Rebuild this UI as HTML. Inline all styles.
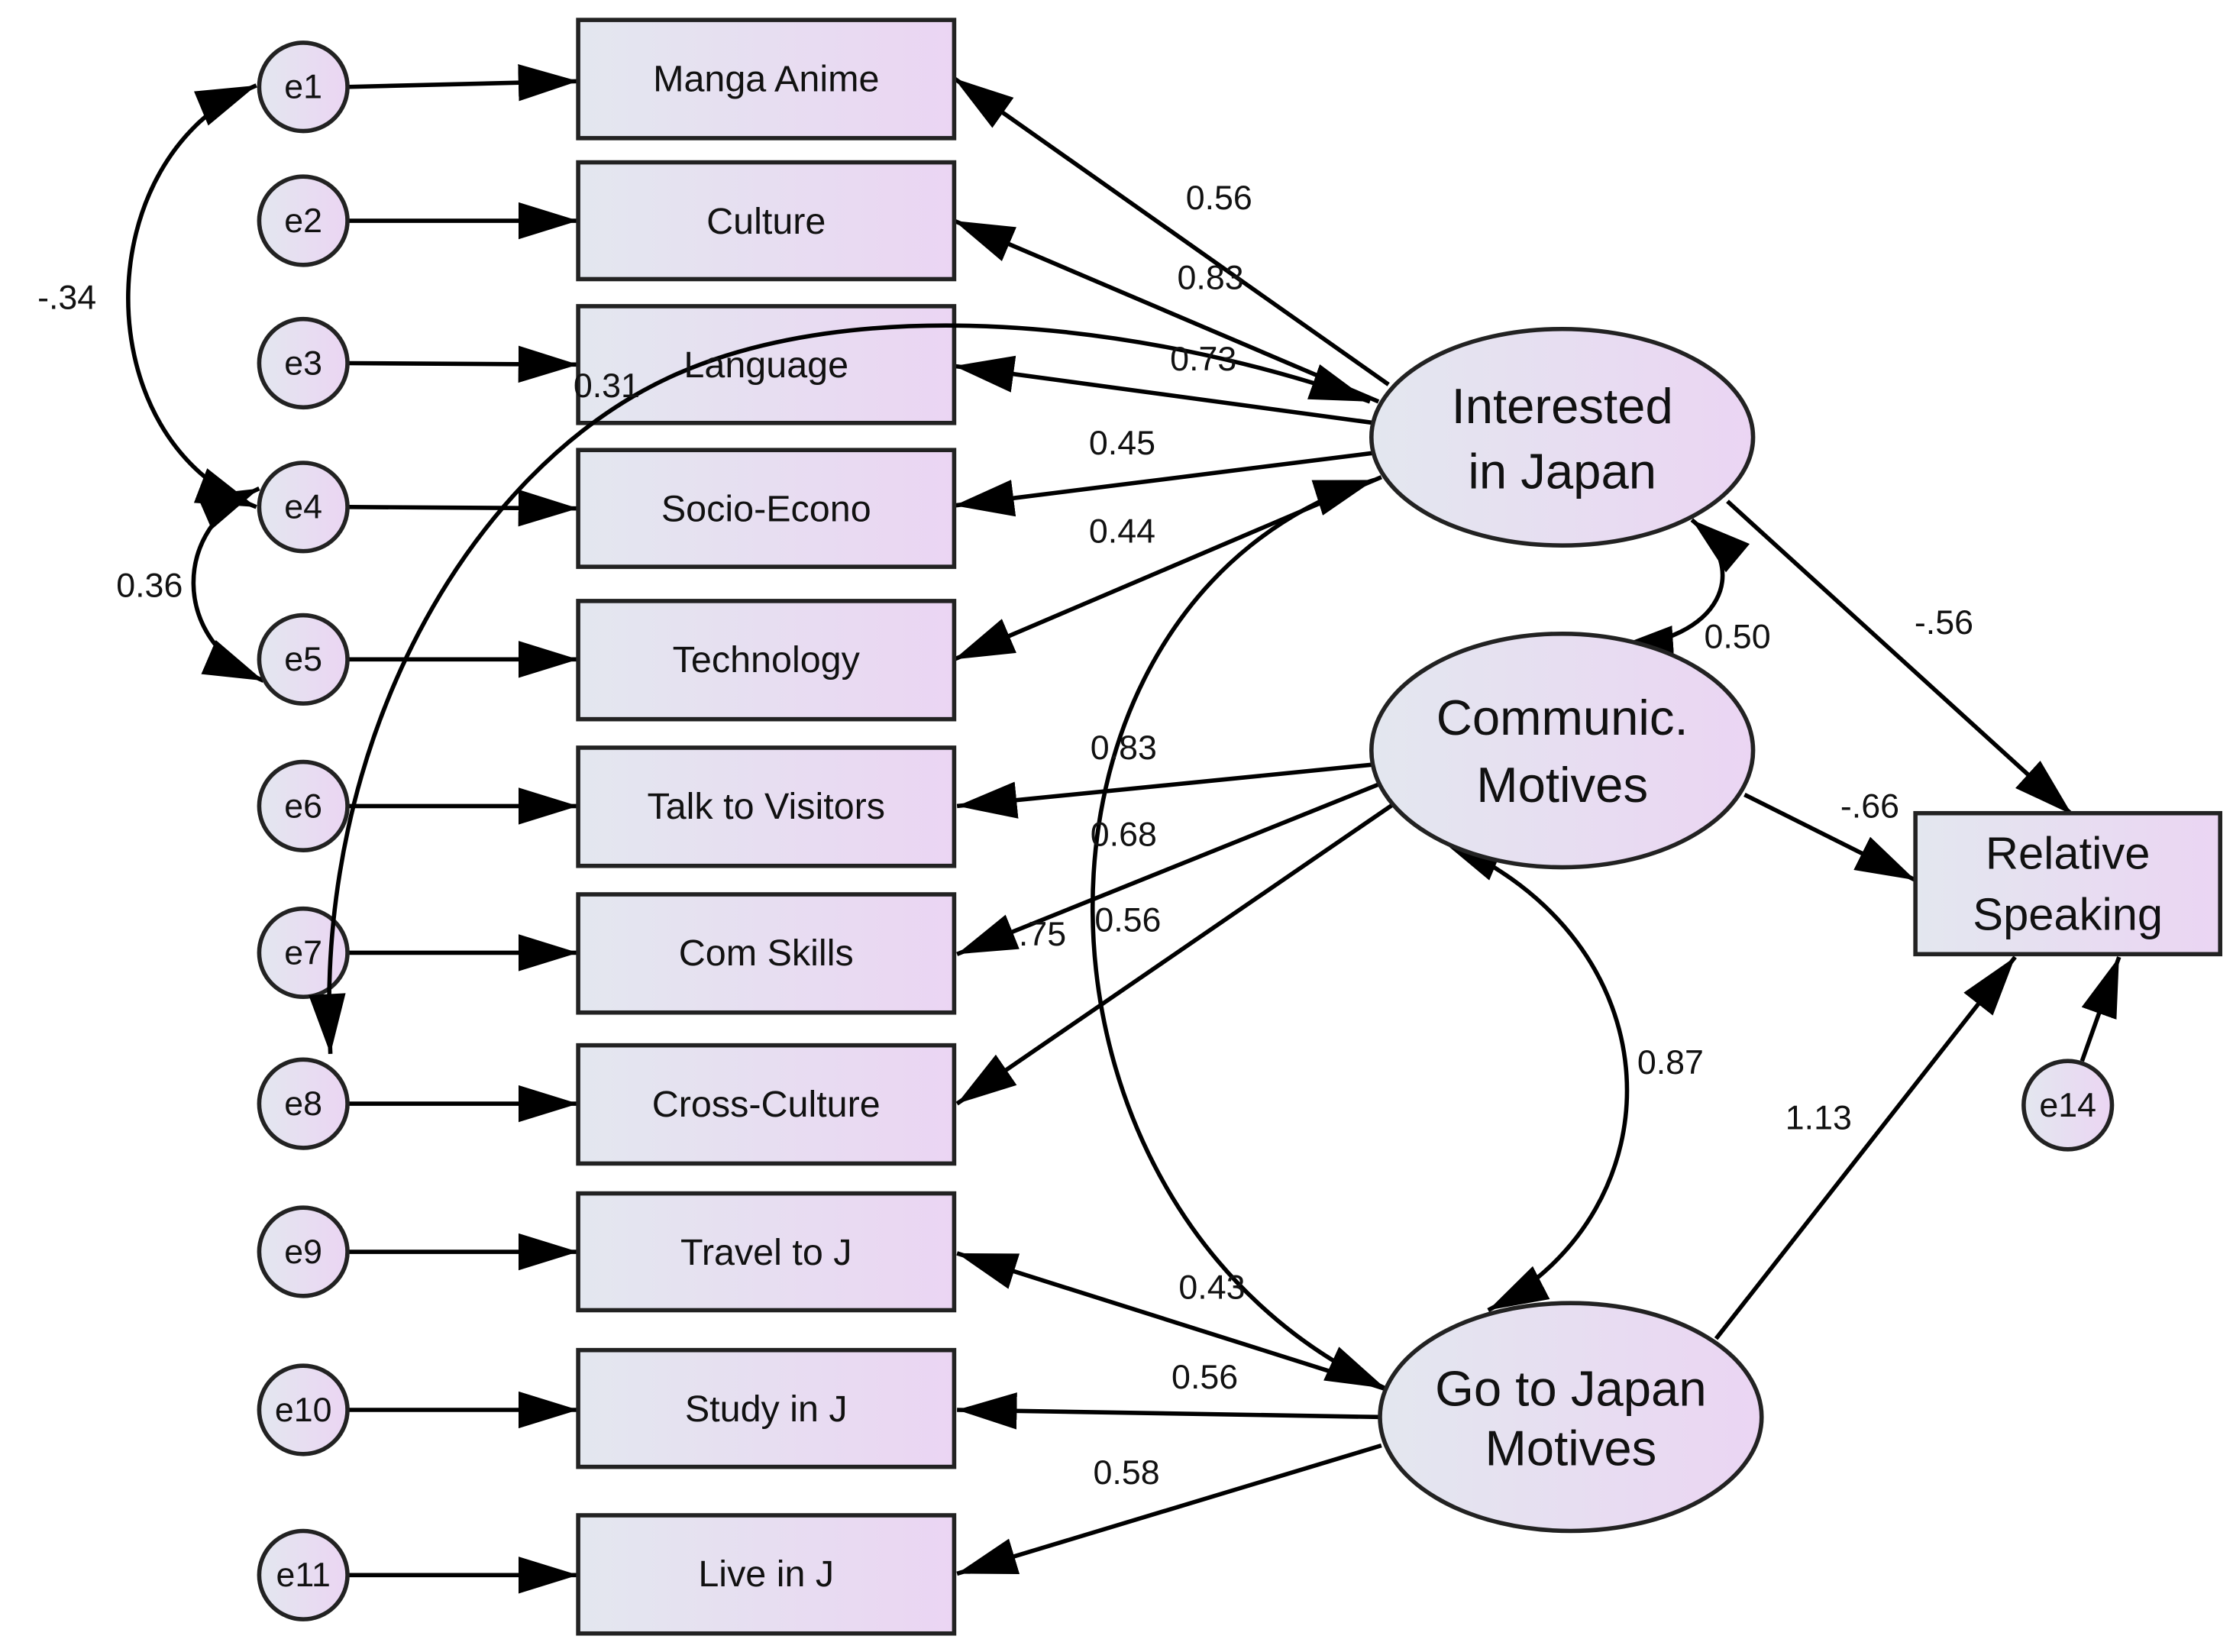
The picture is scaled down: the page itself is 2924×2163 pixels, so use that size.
<!DOCTYPE html>
<html><head><meta charset="utf-8"><style>
html,body{margin:0;padding:0;background:#fff;}
svg{display:block;}
text{font-family:"Liberation Sans",sans-serif;fill:#111;}
</style></head><body>
<svg width="2924" height="2163" viewBox="0 0 1568 1160" preserveAspectRatio="none" xmlns="http://www.w3.org/2000/svg">
<defs>
<linearGradient id="g" x1="0" y1="0" x2="1" y2="0"><stop offset="0" stop-color="#e3e7ef"/><stop offset="1" stop-color="#ebd5f3"/></linearGradient>
<marker id="a" markerUnits="userSpaceOnUse" markerWidth="44" markerHeight="30" refX="42" refY="13" orient="auto"><path d="M0,0 L42,13 L0,26 Z" fill="#000"/></marker>
<marker id="s" markerUnits="userSpaceOnUse" markerWidth="44" markerHeight="30" refX="0" refY="13" orient="auto"><path d="M42,0 L0,13 L42,26 Z" fill="#000"/></marker>
</defs>
<g stroke="#000" stroke-width="3" fill="none">
<line x1="245" y1="61" x2="406" y2="57" marker-end="url(#a)"/>
<line x1="245" y1="155" x2="406" y2="155" marker-end="url(#a)"/>
<line x1="245" y1="255" x2="406" y2="256" marker-end="url(#a)"/>
<line x1="245" y1="356" x2="406" y2="357" marker-end="url(#a)"/>
<line x1="245" y1="463" x2="406" y2="463" marker-end="url(#a)"/>
<line x1="245" y1="566" x2="406" y2="566" marker-end="url(#a)"/>
<line x1="245" y1="669" x2="406" y2="669" marker-end="url(#a)"/>
<line x1="245" y1="775" x2="406" y2="775" marker-end="url(#a)"/>
<line x1="245" y1="879" x2="406" y2="879" marker-end="url(#a)"/>
<line x1="245" y1="990" x2="406" y2="990" marker-end="url(#a)"/>
<line x1="245" y1="1106" x2="406" y2="1106" marker-end="url(#a)"/>
<line x1="975" y1="270" x2="670" y2="55" marker-end="url(#a)"/>
<line x1="968" y1="282" x2="670" y2="155" marker-end="url(#a)"/>
<line x1="965" y1="297" x2="670" y2="257" marker-end="url(#a)"/>
<line x1="965" y1="318" x2="670" y2="355" marker-end="url(#a)"/>
<line x1="970" y1="335" x2="670" y2="463" marker-end="url(#a)"/>
<line x1="963" y1="537" x2="672" y2="566" marker-end="url(#a)"/>
<line x1="970" y1="550" x2="672" y2="670" marker-end="url(#a)"/>
<line x1="978" y1="565" x2="672" y2="775" marker-end="url(#a)"/>
<line x1="972" y1="975" x2="672" y2="880" marker-end="url(#a)"/>
<line x1="968" y1="995" x2="672" y2="990" marker-end="url(#a)"/>
<line x1="970" y1="1015" x2="672" y2="1105" marker-end="url(#a)"/>
<line x1="1213" y1="352" x2="1455" y2="572" marker-end="url(#a)"/>
<line x1="1225" y1="558" x2="1345" y2="618" marker-end="url(#a)"/>
<line x1="1205" y1="940" x2="1415" y2="672" marker-end="url(#a)"/>
<line x1="1462" y1="745" x2="1488" y2="672" marker-end="url(#a)"/>
<path d="M180,60 C60,110 60,310 180,356" marker-start="url(#s)" marker-end="url(#a)"/>
<path d="M182,343 C120,370 120,450 185,478" marker-start="url(#s)" marker-end="url(#a)"/>
<path d="M973,975 C700,850 700,420 965,337" marker-start="url(#s)" marker-end="url(#a)"/>
<path d="M1188,365 C1230,400 1210,450 1133,455" marker-start="url(#s)" marker-end="url(#a)"/>
<path d="M1012,590 C1180,660 1180,850 1045,920" marker-start="url(#s)" marker-end="url(#a)"/>
</g>
<g stroke="#222" stroke-width="3" fill="url(#g)">
<circle cx="213" cy="61" r="31"/><circle cx="213" cy="155" r="31"/><circle cx="213" cy="255" r="31"/>
<circle cx="213" cy="356" r="31"/><circle cx="213" cy="463" r="31"/><circle cx="213" cy="566" r="31"/>
<circle cx="213" cy="669" r="31"/><circle cx="213" cy="775" r="31"/><circle cx="213" cy="879" r="31"/>
<circle cx="213" cy="990" r="31"/><circle cx="213" cy="1106" r="31"/><circle cx="1452" cy="776" r="31"/>
<rect x="406" y="14" width="264" height="83"/><rect x="406" y="114" width="264" height="82"/>
<rect x="406" y="215" width="264" height="82"/><rect x="406" y="316" width="264" height="82"/>
<rect x="406" y="422" width="264" height="83"/><rect x="406" y="525" width="264" height="83"/>
<rect x="406" y="628" width="264" height="83"/><rect x="406" y="734" width="264" height="83"/>
<rect x="406" y="838" width="264" height="82"/><rect x="406" y="948" width="264" height="82"/>
<rect x="406" y="1064" width="264" height="83"/>
<rect x="1345" y="571" width="214" height="99"/>
<ellipse cx="1097" cy="307" rx="134" ry="76"/>
<ellipse cx="1097" cy="527" rx="134" ry="82"/>
<ellipse cx="1103" cy="995" rx="134" ry="80"/>
</g>
<path d="M232,740 C220,520 330,330 470,265 C600,205 800,225 962,282" stroke="#000" stroke-width="3" fill="none" marker-start="url(#s)" marker-end="url(#a)"/>
<g font-size="24" text-anchor="middle">
<text x="213" y="69">e1</text><text x="213" y="163">e2</text><text x="213" y="263">e3</text>
<text x="213" y="364">e4</text><text x="213" y="471">e5</text><text x="213" y="574">e6</text>
<text x="213" y="677">e7</text><text x="213" y="783">e8</text><text x="213" y="887">e9</text>
<text x="213" y="998">e10</text><text x="213" y="1114">e11</text><text x="1452" y="784">e14</text>
</g>
<g font-size="26" text-anchor="middle">
<text x="538" y="64">Manga Anime</text><text x="538" y="164">Culture</text>
<text x="538" y="265">Language</text><text x="538" y="366">Socio-Econo</text>
<text x="538" y="472">Technology</text><text x="538" y="575">Talk to Visitors</text>
<text x="538" y="678">Com Skills</text><text x="538" y="784">Cross-Culture</text>
<text x="538" y="888">Travel to J</text><text x="538" y="998">Study in J</text>
<text x="538" y="1114">Live in J</text>
</g>
<g font-size="35" text-anchor="middle">
<text x="1097" y="297">Interested</text><text x="1097" y="343">in Japan</text>
<text x="1097" y="516">Communic.</text><text x="1097" y="563">Motives</text>
<text x="1103" y="987">Go to Japan</text><text x="1103" y="1029">Motives</text>
<text x="1452" y="610" font-size="32">Relative</text><text x="1452" y="653" font-size="32">Speaking</text>
</g>
<g font-size="24" text-anchor="middle">
<text x="856" y="147">0.56</text><text x="850" y="203">0.83</text><text x="845" y="260">0.73</text>
<text x="426" y="279">0.31</text><text x="788" y="319">0.45</text><text x="788" y="381">0.44</text>
<text x="789" y="533">0.83</text><text x="789" y="594">0.68</text><text x="732" y="664">.75</text>
<text x="792" y="654">0.56</text><text x="851" y="912">0.43</text><text x="846" y="975">0.56</text>
<text x="791" y="1042">0.58</text><text x="1365" y="445">-.56</text><text x="1313" y="574">-.66</text>
<text x="1277" y="793">1.13</text><text x="1220" y="455">0.50</text><text x="1173" y="754">0.87</text>
<text x="47" y="217">-.34</text><text x="105" y="419">0.36</text>
</g>
</svg>
</body></html>
